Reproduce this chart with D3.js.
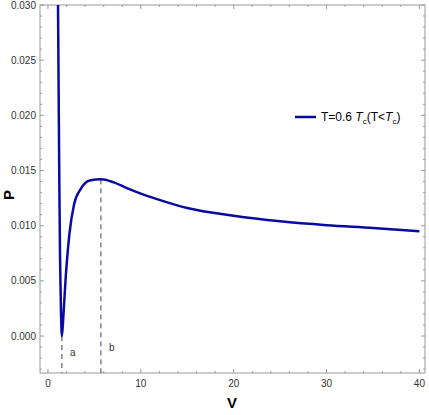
<!DOCTYPE html>
<html><head><meta charset="utf-8">
<script src="https://cdn.jsdelivr.net/npm/d3@7"></script>
<style>body{margin:0;background:#fff}text{font-family:"Liberation Sans Narrow","Liberation Sans",sans-serif}</style>
</head><body><svg id="c" width="429" height="415"></svg>
<script>
var vValues = [1.08,1.15,1.22,1.3,1.4,1.5,1.65,1.9,2.3,2.8,3.5,4.5,5.7,7,8.5,10,12.5,15,20,25,30,35,40];
var pValues = [0.030,0.022,0.014,0.007,0.0022,0.0,0.0017,0.0052,0.0092,0.0119,0.0133,0.0141,0.0142,0.01395,0.0134,0.0129,0.0122,0.0116,0.0109,0.0104,0.01005,0.0098,0.0095];
var markV = [1.5, 5.7], markP = [0, 0.0142], markLabels = ["a", "b"];
var xTicks = [0,10,20,30,40];
var yTicks = [0,0.005,0.01,0.015,0.02,0.025,0.03];

var svg = d3.select("#c");
var L = 40, R = 425, T = 5, B = 373;
var x = d3.scaleLinear().domain([-0.86, 40.6]).range([L, R]);
var y = d3.scaleLinear().domain([-0.00335, 0.030]).range([B, T]);
var grey = "#999";

svg.append("clipPath").attr("id", "cl").append("rect")
    .attr("x", L).attr("y", T).attr("width", R - L).attr("height", B - T);

svg.append("rect").attr("x", L).attr("y", T).attr("width", R - L).attr("height", B - T)
    .attr("fill", "none").attr("stroke", grey);

// ticks on all four sides
function ticks(vals, len) {
    vals.forEach(function (v) {
        svg.append("line").attr("x1", x(v)).attr("x2", x(v)).attr("y1", B).attr("y2", B - len).attr("stroke", grey);
        svg.append("line").attr("x1", x(v)).attr("x2", x(v)).attr("y1", T).attr("y2", T + len).attr("stroke", grey);
    });
}
ticks(xTicks, 4);
ticks(d3.range(0, 41, 2).filter(function (v) { return v % 10; }), 2);
function yt(vals, len) {
    vals.forEach(function (v) {
        svg.append("line").attr("y1", y(v)).attr("y2", y(v)).attr("x1", L).attr("x2", L + len).attr("stroke", grey);
        svg.append("line").attr("y1", y(v)).attr("y2", y(v)).attr("x1", R).attr("x2", R - len).attr("stroke", grey);
    });
}
yt(yTicks, 4);
yt(d3.range(-0.003, 0.0301, 0.001).filter(function (v) { return Math.abs(Math.round(v * 1000) % 5) != 0; }), 2);

svg.selectAll(".xl").data(xTicks).enter().append("text")
    .attr("x", function (d) { return x(d); }).attr("y", B + 14).attr("text-anchor", "middle")
    .attr("font-size", 10).attr("fill", "#333").text(function (d) { return d; });
svg.selectAll(".yl").data(yTicks).enter().append("text")
    .attr("x", L - 4).attr("y", function (d) { return y(d) + 3.5; }).attr("text-anchor", "end")
    .attr("font-size", 10).attr("fill", "#333").text(function (d) { return d3.format(".3f")(d); });

svg.append("text").attr("x", 232).attr("y", 408).attr("text-anchor", "middle")
    .attr("font-size", 15).attr("font-weight", "bold").text("V");
svg.append("text").attr("transform", "translate(14,195) rotate(-90)").attr("text-anchor", "middle")
    .attr("font-size", 15).attr("font-weight", "bold").text("P");

markV.forEach(function (v, i) {
    svg.append("line").attr("x1", x(v)).attr("x2", x(v)).attr("y1", y(markP[i])).attr("y2", B)
        .attr("stroke", "#444").attr("stroke-dasharray", "5,4");
    svg.append("text").attr("x", x(v) + 8).attr("y", i == 0 ? 356 : 351)
        .attr("font-size", 10).attr("fill", "#333").text(markLabels[i]);
});

var line = d3.line().x(function (d, i) { return x(vValues[i]); }).y(function (d) { return y(d); })
    .curve(d3.curveMonotoneX);
svg.append("path").datum(pValues).attr("d", line).attr("fill", "none")
    .attr("stroke", "#0a0aa0").attr("stroke-width", 2.5).attr("clip-path", "url(#cl)");

svg.append("line").attr("x1", 295).attr("x2", 316).attr("y1", 117).attr("y2", 117)
    .attr("stroke", "#0a0aa0").attr("stroke-width", 2.5);
var lt = svg.append("text").attr("x", 321).attr("y", 121).attr("font-size", 12);
lt.append("tspan").text("T=0.6 ");
lt.append("tspan").attr("font-style", "italic").text("T");
lt.append("tspan").attr("font-size", 8).attr("dy", 3).text("c");
lt.append("tspan").attr("dy", -3).text("(T<");
lt.append("tspan").attr("font-style", "italic").text("T");
lt.append("tspan").attr("font-size", 8).attr("dy", 3).text("c");
lt.append("tspan").attr("dy", -3).text(")");
</script></body></html>
